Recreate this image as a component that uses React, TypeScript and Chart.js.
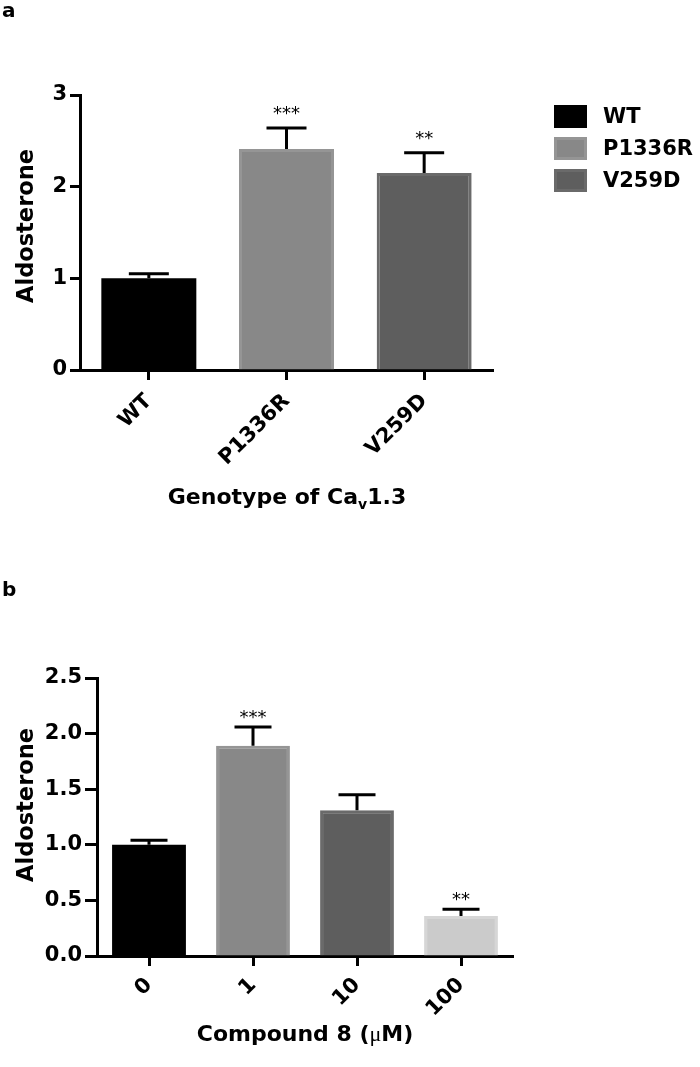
import { useEffect, useRef } from "react";
import { Chart, registerables } from "chart.js";

Chart.register(...registerables);

// ---------- Data: panel a ----------
const genotypes = ["WT", "P1336R", "V259D"];
const genotypeMeans = [1.0, 2.41, 2.15];
const genotypeErrors = [0.05, 0.23, 0.22];
const genotypeStars = ["", "***", "**"];
const genotypeTicks = [0, 1, 2, 3];

// ---------- Data: panel b ----------
const doses = ["0", "1", "10", "100"];
const doseMeans = [1.0, 1.89, 1.31, 0.36];
const doseErrors = [0.04, 0.17, 0.14, 0.06];
const doseStars = ["", "***", "", "**"];
const doseTicks = [0, 0.5, 1.0, 1.5, 2.0, 2.5];

// ---------- Styles ----------
const fillsA = ["#000000", "#888888", "#5e5e5e"];
const edgesA = ["#000000", "#959595", "#6a6a6a"];
const edgeWidthsA = [0, 3, 3];
const fillsB = ["#000000", "#888888", "#5e5e5e", "#cbcbcb"];
const edgesB = ["#000000", "#959595", "#6a6a6a", "#d6d6d6"];
const edgeWidthsB = [0, 3, 3, 3];

const FAM = "'DejaVu Sans', 'Liberation Sans', sans-serif";

Chart.defaults.font.family = FAM;
Chart.defaults.color = "#000";

const errorBarPlugin = {
  id: "errorBars",
  afterDatasetsDraw(chart: any, _args: any, opts: any) {
    const { ctx } = chart;
    const meta = chart.getDatasetMeta(0);
    const y = chart.scales.y;
    const data = chart.data.datasets[0].data;
    ctx.save();
    ctx.strokeStyle = "#000";
    ctx.lineWidth = 3;
    ctx.lineCap = "butt";
    meta.data.forEach((bar: any, i: number) => {
      const v = data[i];
      const top = y.getPixelForValue(v);
      const cap = y.getPixelForValue(v + opts.errors[i]);
      ctx.beginPath();
      ctx.moveTo(bar.x, top);
      ctx.lineTo(bar.x, cap);
      ctx.moveTo(bar.x - opts.capHalf, cap);
      ctx.lineTo(bar.x + opts.capHalf, cap);
      ctx.stroke();
      const s = opts.stars[i];
      if (s) {
        ctx.fillStyle = "#000";
        ctx.font = opts.starFont;
        ctx.textAlign = "center";
        ctx.textBaseline = "alphabetic";
        ctx.fillText(s, bar.x, cap - opts.starOffset);
      }
    });
    ctx.restore();
  },
};

const textPlugin = {
  id: "texts",
  afterDraw(chart: any, _args: any, opts: any) {
    const { ctx } = chart;
    (opts.items || []).forEach((it: any) => {
      ctx.save();
      ctx.translate(it.x, it.y);
      ctx.rotate(it.rot || 0);
      ctx.fillStyle = "#000";
      ctx.textBaseline = it.baseline || "middle";
      ctx.textAlign = "left";
      let total = 0;
      it.segments.forEach((sg: any) => {
        ctx.font = sg.font;
        total += ctx.measureText(sg.text).width;
      });
      let x = it.align === "left" ? 0 : -total / 2;
      it.segments.forEach((sg: any) => {
        ctx.font = sg.font;
        ctx.fillText(sg.text, x, sg.dy || 0);
        x += ctx.measureText(sg.text).width;
      });
      ctx.restore();
    });
  },
};

const legendPlugin = {
  id: "sideLegend",
  afterDraw(chart: any, _args: any, opts: any) {
    if (!opts.show) return;
    const { ctx } = chart;
    const ds = chart.data.datasets[0];
    ctx.save();
    chart.data.labels.forEach((lab: string, i: number) => {
      const top = opts.y + i * opts.gap;
      ctx.fillStyle = ds.borderColor[i];
      ctx.fillRect(opts.x, top, opts.boxW, opts.boxH);
      ctx.fillStyle = ds.backgroundColor[i];
      ctx.fillRect(opts.x + 3, top + 3, opts.boxW - 6, opts.boxH - 6);
      ctx.fillStyle = "#000";
      ctx.font = opts.font;
      ctx.textAlign = "left";
      ctx.textBaseline = "middle";
      ctx.fillText(lab, opts.textX, top + opts.boxH / 2 + 1);
    });
    ctx.restore();
  },
};

function makeConfig(p: any) {
  return {
    type: "bar",
    data: {
      labels: p.labels,
      datasets: [
        {
          data: p.values,
          backgroundColor: p.fills,
          borderColor: p.edges,
          borderWidth: p.edgeWidths,
          barPercentage: p.barPct,
          categoryPercentage: 1,
        },
      ],
    },
    plugins: [errorBarPlugin, textPlugin, legendPlugin],
    options: {
      responsive: false,
      animation: false,
      layout: { padding: p.padding },
      plugins: {
        legend: { display: false },
        tooltip: { enabled: false },
        errorBars: {
          errors: p.errors,
          stars: p.stars,
          capHalf: p.capHalf,
          starFont: `18px ${FAM}`,
          starOffset: p.starOffset,
        },
        texts: { items: p.texts },
        sideLegend: p.legend,
      },
      scales: {
        x: {
          afterFit: (s: any) => {
            s.height = p.xHeight;
          },
          grid: {
            display: true,
            offset: false,
            drawOnChartArea: false,
            drawTicks: true,
            tickLength: 10,
            tickWidth: 3,
            tickColor: "#000",
          },
          border: { display: true, width: 3, color: "#000" },
          ticks: {
            autoSkip: false,
            maxRotation: 45,
            minRotation: 45,
            padding: p.xPad,
            color: "#000",
            font: { family: FAM, size: 21, weight: "bold" },
          },
        },
        y: {
          min: 0,
          max: p.yMax,
          afterFit: (s: any) => {
            s.width = p.yWidth;
          },
          afterBuildTicks: (s: any) => {
            s.ticks = p.yTicks.map((v: number) => ({ value: v }));
          },
          grid: {
            display: true,
            drawOnChartArea: false,
            drawTicks: true,
            tickLength: p.yTickLen,
            tickWidth: 3,
            tickColor: "#000",
          },
          border: { display: true, width: 3, color: "#000" },
          ticks: {
            padding: 3,
            color: "#000",
            font: { family: FAM, size: 21, weight: "bold" },
            callback: (v: any) => p.fmt(Number(v)),
          },
        },
      },
    },
  };
}

export default function App() {
  const refA = useRef<HTMLCanvasElement>(null);
  const refB = useRef<HTMLCanvasElement>(null);

  useEffect(() => {
    const bold22 = `bold 22.5px ${FAM}`;
    const cfgA = makeConfig({
      labels: genotypes,
      values: genotypeMeans,
      errors: genotypeErrors,
      stars: genotypeStars,
      fills: fillsA,
      edges: edgesA,
      edgeWidths: edgeWidthsA,
      barPct: 0.69,
      padding: { top: 95, right: 207, bottom: 0, left: 0 },
      xHeight: 170,
      xPad: 9,
      yWidth: 80,
      yMax: 3,
      yTicks: genotypeTicks,
      yTickLen: 10,
      fmt: (v: number) => String(v),
      capHalf: 20,
      starOffset: 9,
      legend: {
        show: true,
        x: 554,
        y: 105,
        boxW: 33,
        boxH: 23,
        gap: 32,
        textX: 603,
        font: `bold 21px ${FAM}`,
      },
      texts: [
        { x: 2, y: 17, align: "left", baseline: "alphabetic", segments: [{ text: "a", font: `bold 20px ${FAM}` }] },
        { x: 27, y: 226, rot: -Math.PI / 2, segments: [{ text: "Aldosterone", font: bold22 }] },
        {
          x: 287,
          y: 498,
          segments: [
            { text: "Genotype of Ca", font: `bold 22px ${FAM}` },
            { text: "v", font: `bold 14px ${FAM}`, dy: 7 },
            { text: "1.3", font: `bold 22px ${FAM}` },
          ],
        },
      ],
    });
    const cfgB = makeConfig({
      labels: doses,
      values: doseMeans,
      errors: doseErrors,
      stars: doseStars,
      fills: fillsB,
      edges: edgesB,
      edgeWidths: edgeWidthsB,
      barPct: 0.71,
      padding: { top: 138, right: 187, bottom: 0, left: 0 },
      xHeight: 111,
      xPad: 7,
      yWidth: 97,
      yMax: 2.5,
      yTicks: doseTicks,
      yTickLen: 12,
      fmt: (v: number) => v.toFixed(1),
      capHalf: 18.5,
      starOffset: 4,
      legend: { show: false },
      texts: [
        { x: 2, y: 56, align: "left", baseline: "alphabetic", segments: [{ text: "b", font: `bold 20px ${FAM}` }] },
        { x: 27.5, y: 265, rot: -Math.PI / 2, segments: [{ text: "Aldosterone", font: bold22 }] },
        {
          x: 305,
          y: 495,
          segments: [
            { text: "Compound 8 (", font: `bold 22px ${FAM}` },
            { text: "\u03bc", font: `22px 'Liberation Serif', serif` },
            { text: "M)", font: `bold 22px ${FAM}` },
          ],
        },
      ],
    });
    const a = new Chart(refA.current as HTMLCanvasElement, cfgA as any);
    const b = new Chart(refB.current as HTMLCanvasElement, cfgB as any);
    return () => {
      a.destroy();
      b.destroy();
    };
  }, []);

  return (
    <div style={{ position: "absolute", left: 0, top: 0, width: 700, height: 1067, background: "#fff" }}>
      <canvas ref={refA} width={700} height={540} style={{ position: "absolute", left: 0, top: 0, width: 700, height: 540 }} />
      <canvas ref={refB} width={700} height={527} style={{ position: "absolute", left: 0, top: 540, width: 700, height: 527 }} />
    </div>
  );
}
